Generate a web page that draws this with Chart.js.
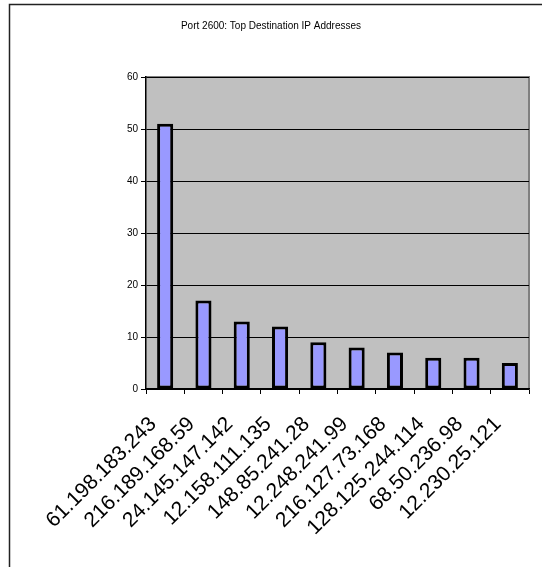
<!DOCTYPE html>
<html>
<head>
<meta charset="utf-8">
<script src="https://cdn.jsdelivr.net/npm/chart.js@4"></script>
<style>
  html, body { margin: 0; padding: 0; background: #ffffff; }
  #wrap { width: 542px; height: 567px; }
</style>
</head>
<body>
<div id="wrap"><canvas id="c" width="542" height="567"></canvas></div>
<script>
// Destination addresses seen on port 2600 and their hit counts
const addresses = [
  '61.198.183.243', '216.189.168.59', '24.145.147.142', '12.158.111.135',
  '148.85.241.28', '12.248.241.99', '216.127.73.168', '128.125.244.114',
  '68.50.236.98', '12.230.25.121'
];
const hits = [51, 17, 13, 12, 9, 8, 7, 6, 6, 5];
const yTicks = [0, 10, 20, 30, 40, 50, 60];
const chartTitle = 'Port 2600: Top Destination IP Addresses';

const FONT = 'Arial, "Liberation Sans", sans-serif';

// Gray plot background with a darker frame, the outer page frame and the title
const plotBackground = {
  id: 'plotBackground',
  beforeDraw(chart) {
    const { ctx, chartArea: a } = chart;
    ctx.save();
    ctx.fillStyle = '#c0c0c0';
    ctx.fillRect(a.left, a.top, a.right - a.left, a.bottom - a.top);
    ctx.strokeStyle = '#808080';
    ctx.lineWidth = 2;
    ctx.beginPath();
    ctx.moveTo(a.left, a.top);
    ctx.lineTo(a.right, a.top);
    ctx.lineTo(a.right, a.bottom);
    ctx.stroke();
    // outer frame (top and left edges)
    ctx.strokeStyle = '#222222';
    ctx.lineWidth = 1.5;
    ctx.beginPath();
    ctx.moveTo(9.5, chart.height);
    ctx.lineTo(9.5, 4.5);
    ctx.lineTo(chart.width, 4.5);
    ctx.stroke();
    // title, centred on the page
    ctx.fillStyle = '#000000';
    ctx.font = '10px ' + FONT;
    ctx.textAlign = 'center';
    ctx.textBaseline = 'middle';
    ctx.fillText(chartTitle, chart.width / 2, 26.5);
    ctx.restore();
  }
};

new Chart(document.getElementById('c'), {
  type: 'bar',
  data: {
    labels: addresses,
    datasets: [{
      data: hits,
      backgroundColor: '#9999ff',
      borderColor: '#000000',
      borderWidth: 3,
      borderSkipped: false,
      categoryPercentage: 1.0,
      barPercentage: 0.42
    }]
  },
  options: {
    responsive: false,
    animation: false,
    layout: { padding: { left: 0, right: 13, top: 77, bottom: 0 } },
    plugins: {
      legend: { display: false },
      tooltip: { enabled: false },
      title: { display: false }
    },
    scales: {
      x: {
        offset: true,
        border: { display: true, color: '#000000', width: 1.5 },
        grid: {
          offset: true,
          drawOnChartArea: false,
          drawTicks: true,
          tickLength: 5,
          color: '#000000',
          lineWidth: 1
        },
        ticks: {
          minRotation: 45,
          maxRotation: 45,
          autoSkip: false,
          padding: 18,
          labelOffset: -12,
          color: '#000000',
          font: { family: FONT, size: 21 }
        },
        afterFit(scale) {
          scale.height = 178;
          scale.paddingLeft = 0;
          scale.paddingRight = 0;
        }
      },
      y: {
        min: 0,
        max: 60,
        border: { display: true, color: '#000000', width: 1.5 },
        grid: {
          color: '#000000',
          lineWidth: 1,
          tickLength: 5,
          drawTicks: true
        },
        afterBuildTicks(scale) {
          scale.ticks = yTicks.map(v => ({ value: v }));
        },
        ticks: {
          padding: 3,
          color: '#000000',
          font: { family: FONT, size: 10 }
        },
        afterFit(scale) {
          scale.width = 146;
          scale.paddingTop = 0;
          scale.paddingBottom = 0;
        }
      }
    }
  },
  plugins: [plotBackground]
});
</script>
</body>
</html>
